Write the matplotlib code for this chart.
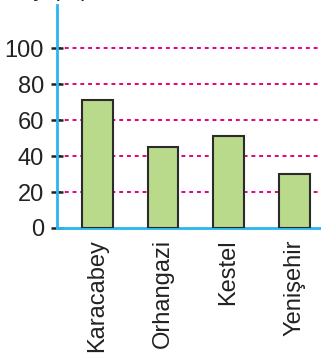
import matplotlib
matplotlib.use("Agg")
import matplotlib.pyplot as plt

categories = ["Karacabey", "Orhangazi", "Kestel", "Yenişehir"]
values = [71, 45, 51, 30]
yticks = [0, 20, 40, 60, 80, 100]

plt.rcParams['font.family'] = ['Liberation Sans', 'DejaVu Sans']

fig = plt.figure(figsize=(3.21, 3.56), dpi=100)
ax = fig.add_axes([57/321, 128/356, 1 - 57/321, (351-128)/356])

x = list(range(len(categories)))
ax.bar(x, values, width=0.47, color="#b9d98b", edgecolor="#2b2b2b",
       linewidth=1.5, zorder=3)

for t in yticks[1:]:
    ax.axhline(t, color="#e5007d", linestyle=(0, (2, 2)), linewidth=1.4, zorder=1)

ax.set_xlim(-0.618, 3.41)
ax.set_ylim(0, 124)
ax.set_yticks(yticks)
ax.set_yticklabels([str(v) for v in yticks], fontsize=17, color="#222222")
ax.set_xticks(x)
ax.set_xticklabels(categories, rotation=90, fontsize=17, color="#222222")
ax.tick_params(axis='x', length=0, pad=8)
ax.tick_params(axis='y', direction='inout', length=9, width=1.8, color="#222222", pad=5)

for s in ['top', 'right']:
    ax.spines[s].set_visible(False)
for s in ['left', 'bottom']:
    ax.spines[s].set_color("#29b6f0")
    ax.spines[s].set_linewidth(2)
    ax.spines[s].set_zorder(2)

fig.text(15/321, 1.011, "Oy (%)", fontsize=17, color="#222222", va='baseline', ha='left')

fig.savefig("out.png", dpi=100)
